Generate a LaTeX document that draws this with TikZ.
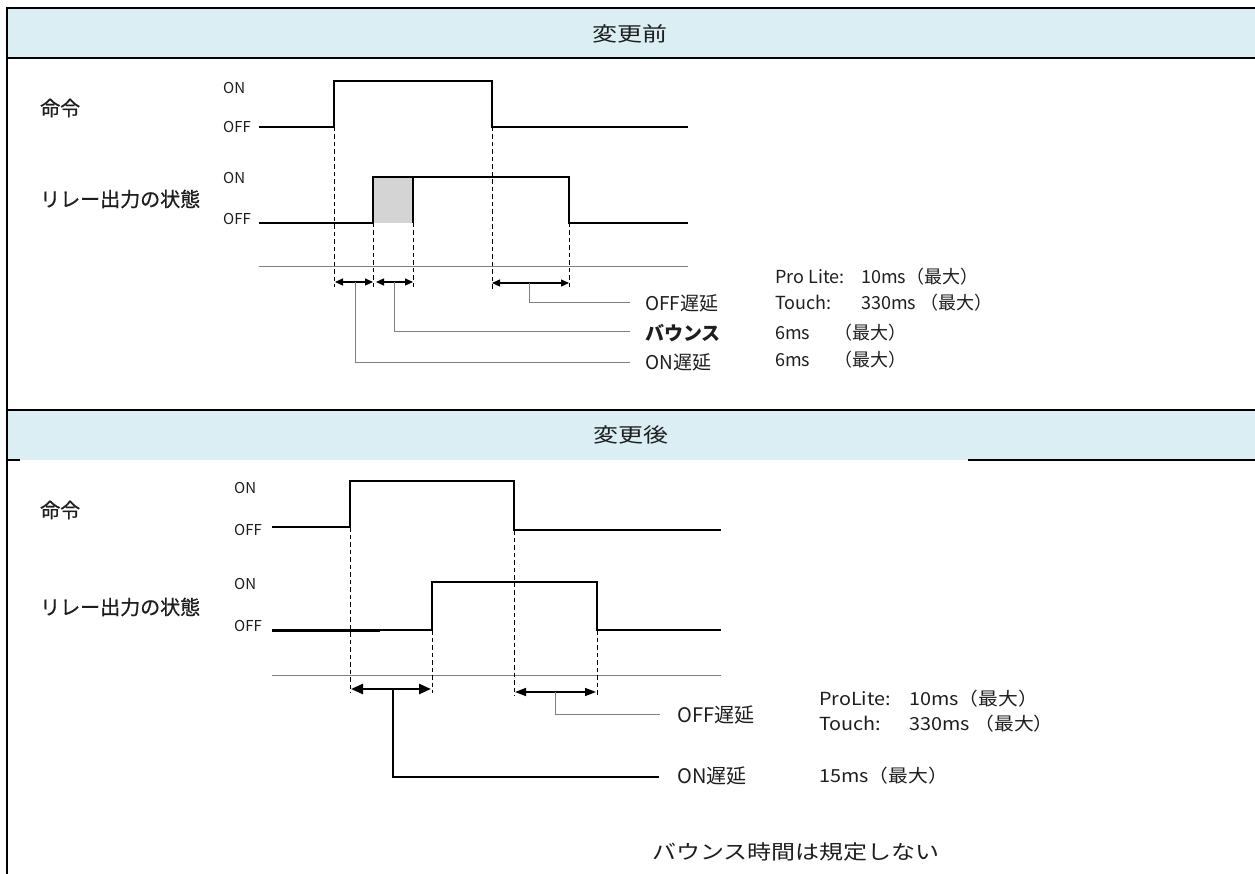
\documentclass[tikz,border=0pt]{standalone}
\usepackage{fontspec}
\setmainfont{Noto Sans CJK JP}
\newfontfamily\jpbold[FakeBold=0.7]{Noto Sans CJK JP}
\usetikzlibrary{arrows.meta}
\definecolor{hdr}{HTML}{DAEEF3}
\definecolor{txt}{HTML}{1E1E1E}
\definecolor{leadc}{HTML}{808080}
\definecolor{bounce}{HTML}{D4D4D4}
\newcommand{\fsz}[1]{\fontsize{#1}{#1}\selectfont}
\newcommand{\xs}[2]{\scalebox{#1}[1]{#2}}
\begin{document}
\begin{tikzpicture}[x=1pt,y=-1pt,
  every node/.style={inner sep=0pt,text=txt},
  sig/.style={line width=2.2pt,line join=miter},
  dsh/.style={dashed,dash pattern=on 4.5pt off 3pt,line width=1pt},
  baseln/.style={draw=gray,line width=0.8pt},
  ldr/.style={draw=leadc,line width=1pt},
  dim/.style={{Triangle[length=8pt,width=7pt]}-{Triangle[length=8pt,width=7pt]},line width=1.1pt},
  dimm/.style={{Triangle[length=11pt,width=8pt]}-{Triangle[length=11pt,width=8pt]},line width=1.4pt},
  dimb/.style={{Triangle[length=12pt,width=10pt]}-{Triangle[length=12pt,width=10pt]},line width=2.4pt},
  brd/.style={line width=2pt},
  onoff/.style={anchor=west,font=\fsz{15}},
  side/.style={anchor=west,font=\fsz{20}\jpbold},
  lab/.style={anchor=west,font=\fsz{19}},
  lab2/.style={anchor=west,font=\fsz{20}},
  val/.style={anchor=west,font=\fsz{18}}]
\useasboundingbox (0,0) rectangle (1255,874);
\fill[white] (0,0) rectangle (1255,874);
% headers
\fill[hdr] (6.5,8) rectangle (1255,58);
\fill[hdr] (6.5,410) rectangle (1255,460);
\draw[brd] (6.5,8) -- (1255,8);
\draw[brd] (6.5,58) -- (1255,58);
\draw[brd] (6.5,410) -- (1255,410);
\draw[brd] (6.5,460) -- (20,460);
\draw[brd] (968,460) -- (1255,460);
\draw[brd] (6.5,7) -- (6.5,874);
\node[font=\fsz{20}] (h1) at (630,34) {\xs{1.25}{変更前}};
\node[font=\fsz{20}] (h2) at (631,435) {\xs{1.25}{変更後}};
% ---------- section 1 ----------
\node[side] (c1) at (40,108) {命令};
\node[side] (r1) at (40,199) {リレー出力の状態};
\node[onoff] (on1a) at (223,88) {ON};
\node[onoff] (of1a) at (223,127) {OFF};
\node[onoff] (on1b) at (223,178) {ON};
\node[onoff] (of1b) at (223,219) {OFF};
\fill[bounce] (373,177) rectangle (413,223);
\draw[sig] (259,127) -- (334,127) -- (334,81) -- (492,81) -- (492,127) -- (688,127);
\draw[sig] (259,223) -- (373,223) -- (373,177) -- (569,177) -- (569,223) -- (688,223);
\draw[sig] (413,177) -- (413,223);
\draw[baseln] (259,266) -- (688,266);
\draw[dsh] (334,127) -- (334,287);
\draw[dsh] (373,223) -- (373,287);
\draw[dsh] (413,223) -- (413,287);
\draw[dsh] (492,127) -- (492,290);
\draw[dsh] (569,223) -- (569,290);
\draw[dim] (335,282) -- (373,282);
\draw[dim] (376,282) -- (413,282);
\draw[dim] (492,283) -- (569,283);
\draw[ldr] (529,283) -- (529,303) -- (630,303);
\draw[ldr] (394,282) -- (394,332) -- (630,332);
\draw[ldr] (355,282) -- (355,362) -- (630,362);
\node[lab] (off1) at (645,303) {OFF遅延};
\node[lab,font=\fsz{19}\bfseries] (bn1) at (645,333) {バウンス};
\node[lab] (ond1) at (645,362) {ON遅延};
\node[val] (v1a) at (775,277) {\makebox[86pt][l]{Pro Lite:}10ms（最大）};
\node[val] (v1b) at (775,303) {\makebox[86pt][l]{Touch:}330ms （最大）};
\node[val] (v1c) at (775,333) {6ms\hspace{24pt}（最大）};
\node[val] (v1d) at (775,360) {6ms\hspace{24pt}（最大）};
% ---------- section 2 ----------
\node[side] (c2) at (40,510) {命令};
\node[side] (r2) at (40,607) {リレー出力の状態};
\node[onoff] (on2a) at (234,488) {ON};
\node[onoff] (of2a) at (234,530) {OFF};
\node[onoff] (on2b) at (234,584) {ON};
\node[onoff] (of2b) at (234,626) {OFF};
\draw[sig] (272,527) -- (350,527) -- (350,481) -- (514,481) -- (514,530) -- (721,530);
\draw[sig] (272,630) -- (432,630) -- (432,582) -- (597,582) -- (597,630) -- (721,630);
\draw[line width=3pt] (272,630) -- (380,630);
\draw[baseln] (272,675) -- (721,675);
\draw[dsh] (350,527) -- (350,693);
\draw[dsh] (432,630) -- (432,693);
\draw[dsh] (514,530) -- (514,696);
\draw[dsh] (597,630) -- (597,696);
\draw[dimb] (351,689) -- (431,689);
\draw[dimm] (515,692) -- (596,692);
\draw[ldr] (555.7,692) -- (555.7,714) -- (660,714);
\draw[line width=2.2pt] (392.7,689) -- (392.7,776.7) -- (659,776.7);
\node[lab2] (off2) at (677,715) {OFF遅延};
\node[lab2] (ond2) at (677,776) {ON遅延};
\node[val] (v2a) at (819,699) {\xs{1.1}{\makebox[82pt][l]{ProLite:}10ms（最大）}};
\node[val] (v2b) at (819,724) {\xs{1.1}{\makebox[82pt][l]{Touch:}330ms （最大）}};
\node[val] (v2c) at (819,776) {\xs{1.1}{15ms（最大）}};
\node[font=\fsz{20}] (note) at (796,852) {\xs{1.2}{バウンス時間は規定しない}};
\end{tikzpicture}
\end{document}
